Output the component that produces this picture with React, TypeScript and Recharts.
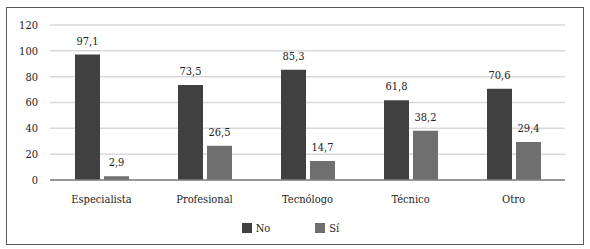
import React from "react";
import {
	BarChart,
	Bar,
	XAxis,
	YAxis,
	CartesianGrid,
	Legend,
	LabelList,
} from "recharts";

const categories = ["Especialista", "Profesional", "Tecnólogo", "Técnico", "Otro"];
const noValues = [97.1, 73.5, 85.3, 61.8, 70.6];
const siValues = [2.9, 26.5, 14.7, 38.2, 29.4];
const yTicks = [0, 20, 40, 60, 80, 100, 120];

const FONT = "'DejaVu Serif Condensed', 'DejaVu Serif', serif";
const NO_COLOR = "#404040";
const SI_COLOR = "#6f6f6f";

const data = categories.map((name, i) => ({
	name,
	No: noValues[i],
	"Sí": siValues[i],
}));

const fmt = (v: any) => String(v).replace(".", ",");

const LegendContent = () => (
	<div
		style={{
			display: "flex",
			justifyContent: "center",
			alignItems: "center",
			fontFamily: FONT,
			fontStretch: "condensed",
			fontSize: 11,
			color: "#222",
			height: 36,
			paddingLeft: 16,
		}}
	>
		<span style={{ display: "flex", alignItems: "center", marginRight: 45 }}>
			<span style={{ width: 10, height: 10, background: NO_COLOR, marginRight: 4 }} />
			No
		</span>
		<span style={{ display: "flex", alignItems: "center" }}>
			<span style={{ width: 10, height: 10, background: SI_COLOR, marginRight: 4 }} />
			Sí
		</span>
	</div>
);

const tickStyle = { fontFamily: FONT, fontStretch: "condensed", fontSize: 11, fill: "#222" };

const App = () => {
	return (
		<div style={{ position: "absolute", left: 0, top: 0, width: 590, height: 249, background: "#fff" }}>
			<div
				style={{
					position: "absolute",
					left: 6,
					top: 7,
					width: 576,
					height: 236,
					border: "1px solid #5a5a5a",
				}}
			/>
			<BarChart
				width={590}
				height={249}
				data={data}
				margin={{ top: 25, right: 25, left: 0, bottom: 12 }}
				barSize={25}
				barGap={4}
				style={{ fontFamily: FONT }}
			>
				<CartesianGrid vertical={false} stroke="#d9d9d9" strokeWidth={1.5} />
				<XAxis
					dataKey="name"
					height={30}
					tickLine={false}
					axisLine={{ stroke: "#808080", strokeWidth: 1.5 }}
					tickMargin={9}
					tick={tickStyle}
				/>
				<YAxis
					width={50}
					domain={[0, 120]}
					ticks={yTicks}
					axisLine={false}
					tickLine={false}
					tickMargin={6}
					tick={tickStyle}
				/>
				<Legend verticalAlign="bottom" height={27} content={<LegendContent />} />
				<Bar dataKey="No" fill={NO_COLOR} isAnimationActive={false}>
					<LabelList
						dataKey="No"
						position="top"
						offset={10}
						formatter={fmt}
						style={tickStyle}
					/>
				</Bar>
				<Bar dataKey="Sí" fill={SI_COLOR} isAnimationActive={false}>
					<LabelList
						dataKey="Sí"
						position="top"
						offset={10}
						formatter={fmt}
						style={tickStyle}
					/>
				</Bar>
			</BarChart>
		</div>
	);
};

export default App;
